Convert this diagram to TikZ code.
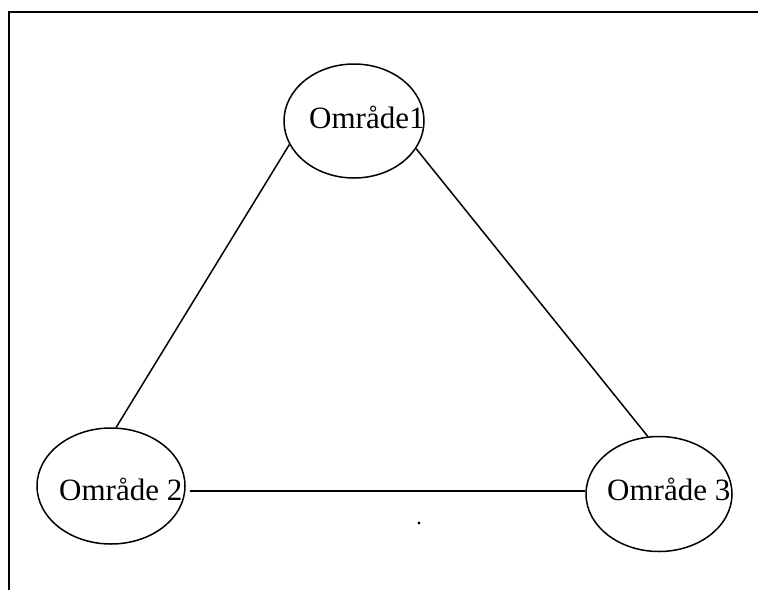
\documentclass[tikz,border=0pt]{standalone}
\usepackage{fontspec}
\setmainfont{Liberation Serif}
\usetikzlibrary{shapes.geometric}
\begin{document}
\begin{tikzpicture}[x=1pt,y=-1pt,
  area/.style={draw,ellipse,inner sep=0pt,line width=1.5pt},
  label/.style={anchor=base west,inner sep=0pt,font=\fontsize{31}{37}\selectfont},
  link/.style={line width=1.5pt}]
\useasboundingbox (0,0) rectangle (758,590);
\draw[line width=2.2pt] (9,590) -- (9,12) -- (758,12);
\node[area,minimum width=140pt,minimum height=114pt] (e1) at (354,121) {};
\node[area,minimum width=148pt,minimum height=116pt] (e2) at (111,486) {};
\node[area,minimum width=146pt,minimum height=115pt] (e3) at (659,494) {};
\node[label] (t1) at (309,128) {Område1};
\node[label] (t2) at (59,500) {Område 2};
\node[label] (t3) at (607,500) {Område 3};
\coordinate (h1) at (190,491);
\draw[link] (e1.200.6) -- (e2.85.8);
\draw[link] (e1.336.3) -- (e3.101);
\draw[link] (h1) -- (h1 -| e3.west);
\fill (419,523) circle (1.6pt);
\end{tikzpicture}
\end{document}
